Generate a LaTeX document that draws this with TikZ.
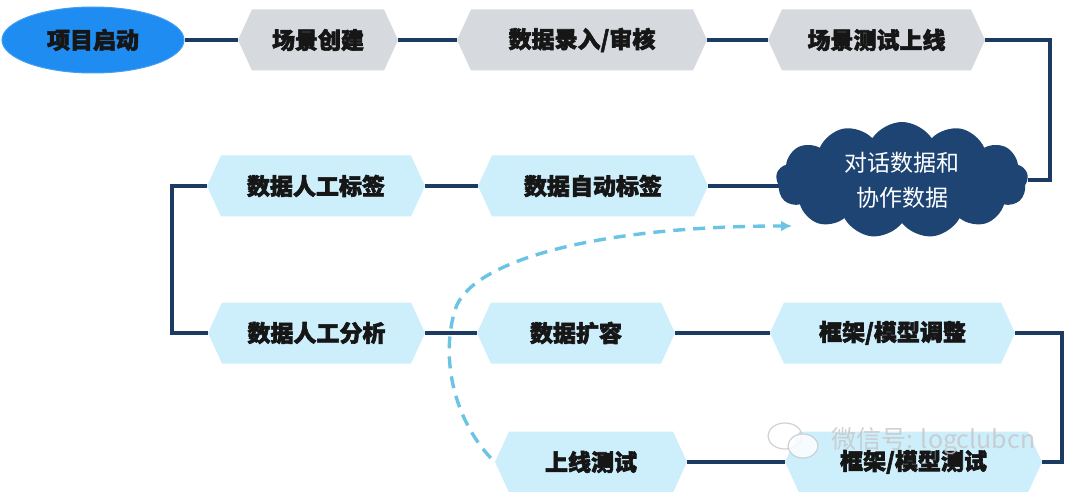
\documentclass[tikz,border=0pt]{standalone}
\usepackage{fontspec}
\newfontfamily\cjk{Noto Sans CJK SC}
\newfontfamily\cjkh{Noto Sans CJK SC}[BoldFeatures={FakeBold=2.5}]
\usetikzlibrary{shapes.geometric,shapes.symbols,arrows.meta,calc,backgrounds}
\definecolor{navy}{HTML}{1C3B63}
\definecolor{cloudnavy}{HTML}{1D4472}
\definecolor{hexgray}{HTML}{D6DADF}
\definecolor{hexblue}{HTML}{CDEEFB}
\definecolor{startblue}{HTML}{1E8CF0}
\definecolor{dashblue}{HTML}{6CC4E4}
\definecolor{txt}{HTML}{161616}
\tikzset{
  hexbox/.style={rectangle, inner sep=0pt, minimum height=61pt,
    font=\cjkh\bfseries\fontsize{23}{26}\selectfont, text=txt,
    path picture={\fill[#1] (path picture bounding box.west)
      -- ([xshift=14pt]path picture bounding box.north west)
      -- ([xshift=-14pt]path picture bounding box.north east)
      -- (path picture bounding box.east)
      -- ([xshift=-14pt]path picture bounding box.south east)
      -- ([xshift=14pt]path picture bounding box.south west) -- cycle;}},
  conn/.style={draw=navy, line width=3.6pt},
  dasharrow/.style={draw=dashblue, line width=3.4pt, dash pattern=on 12pt off 8pt,
    -{Latex[length=11pt,width=11pt]}},
}
\begin{document}
\begin{tikzpicture}[x=1pt,y=-1pt]
\useasboundingbox (0,0) rectangle (1080,492);

% start
\node[ellipse, fill=startblue, draw=startblue!85!white, line width=1pt,
  minimum width=182pt, minimum height=66pt, inner sep=0pt,
  font=\cjkh\bfseries\fontsize{23}{26}\selectfont, text=txt] (start) at (93,40) {项目启动};

% row 1
\node[hexbox=hexgray, minimum width=160pt] (s1) at (318,40) {场景创建};
\node[hexbox=hexgray, minimum width=250pt] (s2) at (582,40) {数据录入/审核};
\node[hexbox=hexgray, minimum width=217pt] (s3) at (876.5,40) {场景测试上线};

% cloud
\node[cloud, cloud puffs=13, cloud puff arc=115, aspect=2.1, fill=cloudnavy,
  minimum width=252pt, minimum height=116pt, inner sep=0pt, align=center,
  font=\cjk\fontsize{23}{35}\selectfont, text=white] (cloud) at (902,180) {对话数据和\\协作数据};

% row 2
\node[hexbox=hexblue, minimum width=218pt] (a1) at (316,186) {数据人工标签};
\node[hexbox=hexblue, minimum width=230pt] (a2) at (593,186) {数据自动标签};

% row 3
\node[hexbox=hexblue, minimum width=217pt] (b1) at (316.5,333) {数据人工分析};
\node[hexbox=hexblue, minimum width=198pt] (b2) at (576,333) {数据扩容};
\node[hexbox=hexblue, minimum width=245pt] (b3) at (892.5,333) {框架/模型调整};

% row 4
\node[hexbox=hexblue, minimum width=192pt] (c1) at (591,462) {上线测试};
\node[hexbox=hexblue, minimum width=257pt] (c2) at (913.5,462) {框架/模型测试};

\begin{scope}[on background layer]
\fill[white] (0,0) rectangle (1080,492);
\draw[conn] (start.east) -- (s1.west);
\draw[conn] (s1.east) -- (s2.west);
\draw[conn] (s2.east) -- (s3.west);
\draw[conn] (s3.east) -- ++(65,0) |- (cloud.east);
\draw[conn] (a2.east) -- (a2.east -| cloud.center);
\draw[conn] (a1.east) -- (a2.west);
\draw[conn] (a1.west) -- ++(-35,0) |- (b1.west);
\draw[conn] (b1.east) -- (b2.west);
\draw[conn] (b2.east) -- (b3.west);
\draw[conn] (b3.east) -- ++(47,0) |- (c2.east);
\draw[conn] (c1.east) -- (c2.west);
\end{scope}

% dashed feedback arrow
\coordinate (dmid) at (455,310);
\coordinate (dashend) at (792,226);
\draw[dasharrow] ([xshift=-4pt,yshift=4pt]c1.west) .. controls (455,420) and (440,360) .. (dmid)
  .. controls (470,260) and (600,226) .. (dashend);

% watermark
\node[font=\cjk\fontsize{25}{28}\selectfont, text=gray!45, opacity=0.8, anchor=west]
  (wm) at (828,441) {微信号: logclubcn};
\draw[gray!45, line width=1.2pt, opacity=0.8] (785,436) ellipse (17pt and 13pt);
\draw[gray!45, line width=1.2pt, opacity=0.8, fill=white] (803,446) ellipse (15pt and 12pt);
\end{tikzpicture}
\end{document}
